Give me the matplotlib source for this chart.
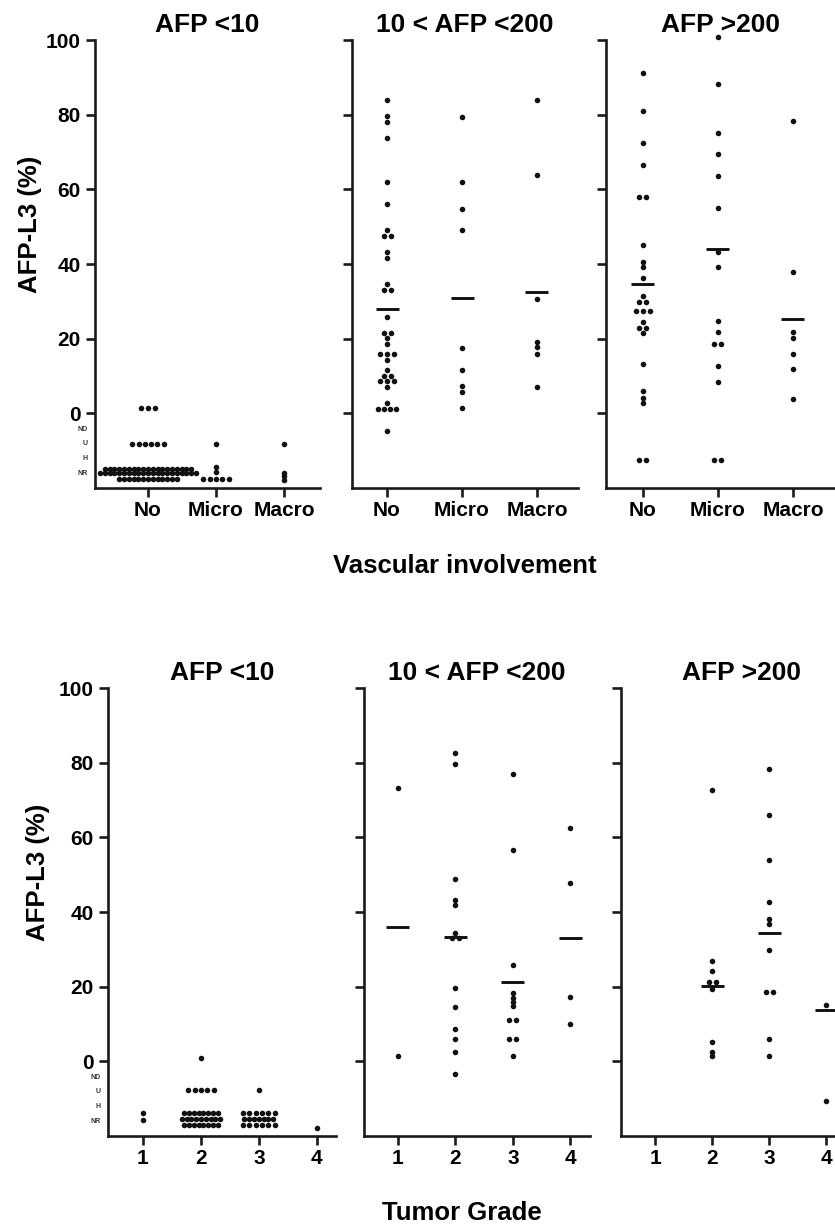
import numpy as np
import matplotlib.pyplot as plt

plt.rcParams['font.family'] = ['Liberation Sans', 'DejaVu Sans']
plt.rcParams['font.weight'] = 'bold'

W, HPX = 835, 1230

afp_titles = ["AFP <10", "10 < AFP <200", "AFP >200"]
vasc_cats = ["No", "Micro", "Macro"]
grade_cats = ["1", "2", "3", "4"]
below_labels = ["ND", "U", "H", "NR"]
below_levels = [-4.3, -8, -12, -16]

# Vascular involvement, values per category (No, Micro, Macro)
vasc_afp10 = [
    [1.3] * 3 + [-8.2] * 6 + [-14.9] * 19 + [-16.0] * 21 + [-17.6] * 13,
    [-8.2, -14.5, -15.8] + [-17.6] * 5,
    [-8.2, -15.9, -16.9, -17.9],
]
vasc_afp200 = [
    [84.0, 79.7, 78.0, 73.7, 62.0, 56.2, 49.0, 47.6, 47.6, 43.1, 41.7, 34.6,
     33.1, 33.1, 25.8, 21.6, 21.6, 20.3, 18.7, 15.8, 15.8, 15.8, 14.2, 11.5,
     10.0, 10.0, 8.6, 8.6, 8.6, 7.1, 2.8, 1.2, 1.2, 1.2, 1.2, -4.7],
    [79.5, 62.0, 54.8, 49.0, 17.4, 11.6, 7.3, 5.8, 1.3],
    [84.0, 63.8, 30.5, 19.0, 17.7, 15.9, 7.1],
]
vasc_afp_high = [
    [91.1, 81.0, 72.3, 66.5, 58.0, 58.0, 45.0, 40.5, 39.2, 36.2, 31.5, 29.7,
     29.7, 27.5, 27.5, 27.5, 24.4, 22.8, 22.8, 21.4, 13.2, 6.0, 4.2, 2.9,
     -12.4, -12.4],
    [100.8, 88.2, 75.2, 69.5, 63.6, 55.0, 43.2, 39.2, 24.6, 21.7, 18.5, 18.5,
     12.7, 8.4, -12.4, -12.4],
    [78.3, 37.8, 21.9, 20.3, 16.0, 11.8, 3.9],
]
vasc_afp200_means = [27.9, 30.9, 32.4]
vasc_afp_high_means = [34.7, 44.1, 25.3]

# Tumor grade, values per grade (1-4)
grade_afp10 = [
    [-13.8, -15.6],
    [0.9] + [-7.8] * 5 + [-13.8] * 8 + [-15.4] * 9 + [-17.0] * 8,
    [-7.8] + [-13.8] * 6 + [-15.4] * 7 + [-17.0] * 6,
    [-17.8],
]
grade_afp200 = [
    [73.3, 1.3],
    [82.7, 79.6, 48.9, 43.2, 41.9, 34.3, 33.1, 33.1, 19.6, 14.6, 8.6, 6.1,
     2.5, -3.5],
    [76.9, 56.5, 25.7, 18.3, 16.9, 16.0, 14.7, 11.1, 11.1, 6.1, 6.1, 1.4],
    [62.5, 47.8, 17.3, 10.1],
]
grade_afp_high = [
    [],
    [72.6, 27.0, 24.3, 21.2, 21.2, 19.4, 5.2, 2.6, 1.3],
    [78.2, 66.1, 53.9, 42.8, 38.1, 36.7, 29.7, 18.5, 18.5, 6.1, 1.4],
    [15.1, -10.5],
]
grade_afp200_means = [36.0, 33.3, 21.3, 33.1]
grade_afp_high_means = [None, 20.3, 34.3, 13.8]

fig = plt.figure(figsize=(W / 100, HPX / 100), dpi=100)


def add_ax(x0, y0, w, h):
    return fig.add_axes([x0 / W, 1 - (y0 + h) / HPX, w / W, h / HPX])


def draw_panel(ax, groups, cats, xlim, title, means=None, first=False):
    ax.set_xlim(*xlim)
    ax.set_ylim(-20, 100)
    ux = (xlim[1] - xlim[0]) / (ax.get_position().width * W)  # data units per pixel
    for i, vals in enumerate(groups):
        xc = i + 1
        vals = np.asarray(vals)
        for v in np.unique(vals):
            n = int(np.sum(vals == v))
            step = 7 if n <= 3 else (6.3 if n <= 6 else 4.8)
            xs = xc + (np.arange(n) - (n - 1) / 2) * step * ux
            ax.plot(xs, np.full(n, v), 'o', ms=4, mew=0, color='#111111', clip_on=False)
        if means is not None and means[i] is not None:
            ax.plot([xc - 11.5 * ux, xc + 11.5 * ux], [means[i]] * 2, color='#111111',
                    lw=2.1, solid_capstyle='butt', clip_on=False)
    ax.set_xticks(range(1, len(cats) + 1), cats)
    ax.set_yticks(range(0, 101, 20))
    for s in ['top', 'right']:
        ax.spines[s].set_visible(False)
    for s in ['left', 'bottom']:
        ax.spines[s].set_linewidth(1.9)
        ax.spines[s].set_color('#1a1a1a')
    ax.tick_params(axis='both', direction='out', length=6.5, width=1.9, color='#1a1a1a',
                   labelsize=15)
    ax.tick_params(axis='x', pad=2.5)
    ax.tick_params(axis='y', pad=4)
    if first:
        for lab, lev in zip(below_labels, below_levels):
            ax.annotate(lab, xy=(0, lev), xycoords=ax.get_yaxis_transform(),
                        xytext=(-5.5, 0), textcoords='offset points', ha='right',
                        va='center', fontsize=5, color='#333333')
    else:
        ax.set_yticklabels([])
    ax.set_title(title, fontsize=19, fontweight='bold', pad=6)


# top row: vascular involvement
ax = add_ax(95, 40, 225, 448)
draw_panel(ax, vasc_afp10, vasc_cats, (0.22, 3.53), afp_titles[0], first=True)
ax = add_ax(352, 40, 226, 448)
draw_panel(ax, vasc_afp200, vasc_cats, (0.533, 3.547), afp_titles[1], vasc_afp200_means)
ax = add_ax(606, 40, 229, 448)
draw_panel(ax, vasc_afp_high, vasc_cats, (0.507, 3.56), afp_titles[2], vasc_afp_high_means)

# bottom row: tumor grade
ax = add_ax(108, 688, 228, 448)
draw_panel(ax, grade_afp10, grade_cats, (0.397, 4.33), afp_titles[0], first=True)
ax = add_ax(364, 688, 226, 448)
draw_panel(ax, grade_afp200, grade_cats, (0.409, 4.34), afp_titles[1], grade_afp200_means)
ax = add_ax(621, 688, 240, 448)
draw_panel(ax, grade_afp_high, grade_cats, (0.404, 4.61), afp_titles[2], grade_afp_high_means)

fig.text(30 / W, 1 - 224 / HPX, "AFP-L3 (%)", rotation=90, ha='center', va='center',
         fontsize=18.5, fontweight='bold')
fig.text(38 / W, 1 - 872 / HPX, "AFP-L3 (%)", rotation=90, ha='center', va='center',
         fontsize=18.5, fontweight='bold')
fig.text(465 / W, 1 - 566 / HPX, "Vascular involvement", ha='center', va='center',
         fontsize=18.5, fontweight='bold')
fig.text(462 / W, 1 - 1213 / HPX, "Tumor Grade", ha='center', va='center',
         fontsize=18.5, fontweight='bold')

fig.savefig("out.png", dpi=100)
